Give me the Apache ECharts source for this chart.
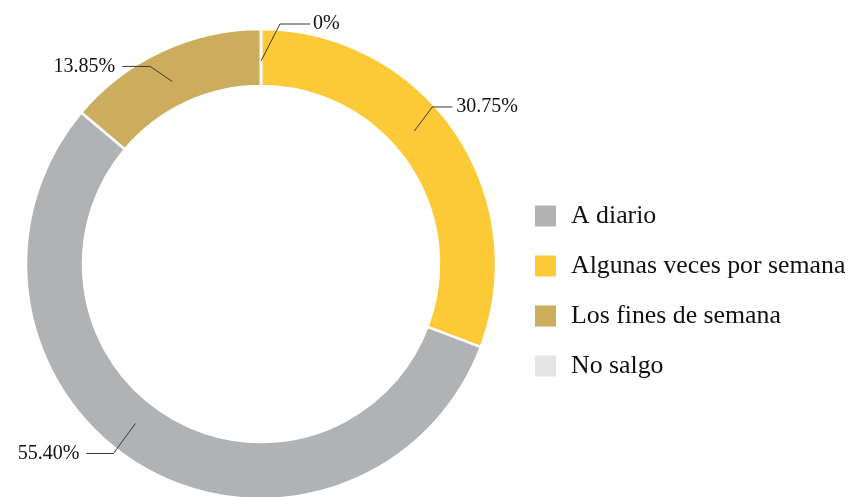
<!DOCTYPE html>
<html>
<head>
<meta charset="utf-8">
<script src="https://cdn.jsdelivr.net/npm/echarts@6/dist/echarts.min.js"></script>
<style>
  html, body { margin: 0; padding: 0; background: #ffffff; }
  #chart { width: 848px; height: 497px; }
</style>
</head>
<body>
<div id="chart"></div>
<script>
// Frecuencia de salida: share of answers per category (percent)
const categories = ['Algunas veces por semana', 'A diario', 'Los fines de semana', 'No salgo'];
const shares = [30.75, 55.40, 13.85, 0];
const legendOrder = ['A diario', 'Algunas veces por semana', 'Los fines de semana', 'No salgo'];

// Styling
const pieCenter = [261, 264];
const sliceColors = {
  'A diario': '#b0b2b4',
  'Algunas veces por semana': '#fbca36',
  'Los fines de semana': '#ccad5d',
  'No salgo': '#e3e5e5'
};
// Leader line shape per category: turn of the anchor around the centre (deg),
// bend offset from the anchor, horizontal run, text gap
const leaderStyle = {
  'Algunas veces por semana': { turn: 6.3, bend: [18, -24], run: 20, gap: 4 },
  'A diario': { turn: -7.8, bend: [-22, 30], run: -27, gap: 7 },
  'Los fines de semana': { turn: 1, bend: [-22, -15], run: -28, gap: 7 },
  'No salgo': { turn: 0, bend: [19, -37], run: 30, gap: 3 }
};
const serif = "'Liberation Serif', 'Times New Roman', serif";

function fmtShare(v) {
  return v === 0 ? '0%' : v.toFixed(2) + '%';
}

const pieData = categories.map((name, i) => ({
  name: name,
  value: shares[i],
  itemStyle: { color: sliceColors[name] }
}));

const chart = echarts.init(document.getElementById('chart'), null, { renderer: 'canvas' });

chart.setOption({
  animation: false,
  backgroundColor: '#ffffff',
  legend: {
    data: legendOrder,
    orient: 'vertical',
    left: 533,
    top: 203,
    padding: 0,
    itemWidth: 23,
    itemHeight: 23,
    itemGap: 24,
    icon: 'rect',
    selectedMode: false,
    textStyle: {
      fontFamily: serif,
      fontSize: 25.8,
      color: '#111111',
      lineHeight: 23,
      padding: [0, 0, 0, 9]
    }
  },
  series: [
    {
      // ring
      type: 'pie',
      z: 2,
      center: pieCenter,
      radius: [178, 235],
      startAngle: 90,
      clockwise: true,
      silent: true,
      label: { show: false },
      labelLine: { show: false },
      itemStyle: { borderColor: '#ffffff', borderWidth: 2.5 },
      emphasis: { disabled: true },
      data: pieData
    },
    {
      // percentage labels anchored inside the ring
      type: 'pie',
      z: 5,
      center: pieCenter,
      radius: [0, 203],
      startAngle: 90,
      clockwise: true,
      silent: true,
      avoidLabelOverlap: false,
      itemStyle: { color: 'rgba(0,0,0,0)', borderWidth: 0 },
      emphasis: { disabled: true },
      label: {
        show: true,
        position: 'outside',
        fontFamily: serif,
        fontSize: 20,
        color: '#111111',
        formatter: p => fmtShare(p.value)
      },
      labelLine: {
        show: true,
        length: 10,
        length2: 10,
        lineStyle: { color: '#3a3a3a', width: 1 }
      },
      labelLayout: function (p) {
        const name = categories[p.dataIndex];
        const st = leaderStyle[name];
        const pts = p.labelLinePoints;
        if (!pts) return {};
        // anchor on the ring, turned around the centre
        const dx0 = pts[0][0] - pieCenter[0];
        const dy0 = pts[0][1] - pieCenter[1];
        const r = Math.sqrt(dx0 * dx0 + dy0 * dy0);
        const a = Math.atan2(-dy0, dx0) + st.turn * Math.PI / 180;
        const sx = pieCenter[0] + r * Math.cos(a);
        const sy = pieCenter[1] - r * Math.sin(a);
        const bx = sx + st.bend[0];
        const by = sy + st.bend[1];
        const ex = bx + st.run;
        const right = st.run > 0;
        return {
          x: ex + (right ? st.gap : -st.gap),
          y: by,
          align: right ? 'left' : 'right',
          verticalAlign: 'middle',
          labelLinePoints: [[sx, sy], [bx, by], [ex, by]]
        };
      },
      data: categories.map((name, i) => ({ name: name, value: shares[i] }))
    }
  ]
});
</script>
</body>
</html>
